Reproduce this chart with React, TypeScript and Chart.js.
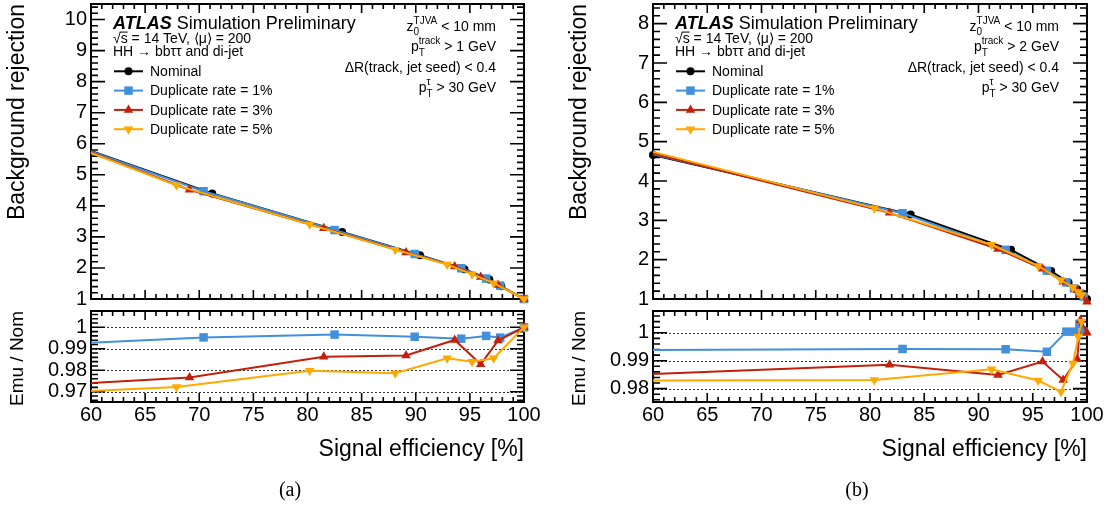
import React, { useEffect, useRef } from 'react';
import { Chart, registerables } from 'chart.js';

Chart.register(...registerables);

const FONT = "'Liberation Sans', Arial, Helvetica, sans-serif";
const SERIF = "'Liberation Serif', 'Times New Roman', serif";

// ---------------- data ----------------
const SERIES_NAMES = ['Nominal', 'Duplicate rate = 1%', 'Duplicate rate = 3%', 'Duplicate rate = 5%'];

const X_TICKS = [60, 65, 70, 75, 80, 85, 90, 95, 100];
const X_TICK_LABELS = ['60', '65', '70', '75', '80', '85', '90', '95', '100'];

const A_MAIN_Y_TICKS = [1, 2, 3, 4, 5, 6, 7, 8, 9, 10];
const A_MAIN_Y_LABELS = ['1', '2', '3', '4', '5', '6', '7', '8', '9', '10'];
const A_RATIO_Y_TICKS = [0.97, 0.98, 0.99, 1];
const A_RATIO_Y_LABELS = ['0.97', '0.98', '0.99', '1'];

const B_MAIN_Y_TICKS = [1, 2, 3, 4, 5, 6, 7, 8];
const B_MAIN_Y_LABELS = ['1', '2', '3', '4', '5', '6', '7', '8'];
const B_RATIO_Y_TICKS = [0.98, 0.99, 1];
const B_RATIO_Y_LABELS = ['0.98', '0.99', '1'];

// panel (a): pT(track) > 1 GeV
const A_NOM_X = [60, 71.2, 83.2, 90.4, 94.5, 96.8, 97.9, 100];
const A_NOM_Y = [5.77, 4.4, 3.16, 2.41, 1.96, 1.63, 1.41, 1.0];
const A_DUP1_X = [60, 70.4, 82.5, 89.9, 94.2, 96.5, 97.8, 100];
const A_DUP1_Y = [5.75, 4.47, 3.22, 2.45, 1.99, 1.66, 1.43, 1.0];
const A_DUP1_R = [0.9928, 0.9953, 0.9966, 0.9956, 0.9947, 0.996, 0.9952, 1.0];
const A_DUP3_X = [60, 69.1, 81.5, 89.1, 93.6, 96.0, 97.6, 100];
const A_DUP3_Y = [5.72, 4.52, 3.28, 2.5, 2.05, 1.71, 1.45, 1.0];
const A_DUP3_R = [0.974, 0.9766, 0.9863, 0.9869, 0.9941, 0.9828, 0.9938, 1.0];
const A_DUP5_X = [60, 67.9, 80.2, 88.1, 92.9, 95.2, 97.2, 100];
const A_DUP5_Y = [5.7, 4.66, 3.4, 2.59, 2.11, 1.8, 1.51, 1.0];
const A_DUP5_R = [0.9703, 0.9722, 0.9798, 0.9786, 0.9856, 0.984, 0.9856, 1.0];

// panel (b): pT(track) > 2 GeV
const B_NOM_X = [60, 83.75, 93.0, 96.7, 98.3, 99.1, 99.6, 100];
const B_NOM_Y = [4.66, 3.15, 2.25, 1.71, 1.42, 1.25, 1.12, 1.0];
const B_DUP1_X = [60, 83.0, 92.5, 96.3, 98.1, 98.8, 99.3, 99.7];
const B_DUP1_Y = [4.68, 3.18, 2.25, 1.72, 1.42, 1.27, 1.15, 1.06];
const B_DUP1_R = [0.9938, 0.9942, 0.9941, 0.9932, 1.0004, 1.0004, 1.0032, 1.0004];
const B_DUP3_X = [60, 81.8, 91.8, 95.9, 97.8, 99.1, 99.4, 100];
const B_DUP3_Y = [4.7, 3.19, 2.27, 1.77, 1.44, 1.22, 1.12, 0.93];
const B_DUP3_R = [0.9852, 0.9885, 0.9849, 0.9897, 0.9831, 0.9905, 1.0045, 1.0];
const B_DUP5_X = [60, 80.4, 91.2, 95.5, 97.6, 98.7, 99.2, 99.5];
const B_DUP5_Y = [4.74, 3.31, 2.38, 1.84, 1.48, 1.3, 1.18, 1.1];
const B_DUP5_R = [0.9829, 0.9831, 0.9869, 0.9829, 0.9789, 0.989, 0.9986, 1.004];

// ---------------- styles ----------------
const BLUE = '#4290dc';
const RED = '#c1200a';
const ORANGE = '#ffa800';
const STYLES = [
  { color: '#000000', shape: 'circle', r: 4, rot: 0 },
  { color: BLUE, shape: 'rect', r: 6, rot: 0 },
  { color: RED, shape: 'triangle', r: 5.5, rot: 0 },
  { color: ORANGE, shape: 'triangle', r: 5.5, rot: 180 },
];

type Run = { t: string; s?: number; dy?: number; ov?: boolean };
type Grp = Run[];

function grpW(ctx: CanvasRenderingContext2D, g: Grp) {
  let w = 0;
  for (const r of g) {
    ctx.font = `${r.s || 14}px ${FONT}`;
    w = Math.max(w, ctx.measureText(r.t).width);
  }
  return w;
}

function drawRich(ctx: CanvasRenderingContext2D, groups: Grp[], x: number, y: number, align: 'left' | 'right') {
  const total = groups.reduce((s, g) => s + grpW(ctx, g), 0);
  let cx = align === 'right' ? x - total : x;
  ctx.textAlign = 'left';
  ctx.textBaseline = 'alphabetic';
  for (const g of groups) {
    const w = grpW(ctx, g);
    for (const r of g) {
      const s = r.s || 14;
      ctx.font = `${s}px ${FONT}`;
      ctx.fillText(r.t, cx, y + (r.dy || 0));
      if (r.ov) {
        const tw = ctx.measureText(r.t).width;
        ctx.beginPath();
        ctx.lineWidth = 1;
        ctx.moveTo(cx - 1, y - s * 0.78);
        ctx.lineTo(cx + tw, y - s * 0.78);
        ctx.stroke();
      }
    }
    cx += w;
  }
}

function drawMarker(ctx: CanvasRenderingContext2D, st: any, x: number, y: number) {
  ctx.fillStyle = st.color;
  ctx.beginPath();
  if (st.shape === 'circle') {
    ctx.arc(x, y, st.r, 0, Math.PI * 2);
  } else if (st.shape === 'rect') {
    const h = st.r * Math.SQRT1_2;
    ctx.rect(x - h, y - h, 2 * h, 2 * h);
  } else {
    const sgn = st.rot === 180 ? -1 : 1;
    const r = st.r;
    ctx.moveTo(x, y - sgn * r);
    ctx.lineTo(x + r * 0.866, y + sgn * r * 0.5);
    ctx.lineTo(x - r * 0.866, y + sgn * r * 0.5);
    ctx.closePath();
  }
  ctx.fill();
}

function framePlugin(cfg: { xMajor: number[]; xDiv: number; yMajor: number[]; yDiv: number; xLen: number[]; yLen: number[]; dotted?: number[] }) {
  return {
    id: 'frame',
    beforeDatasetsDraw(chart: any) {
      const { ctx, chartArea: a } = chart;
      const xs = chart.scales.x;
      const ys = chart.scales.y;
      ctx.save();
      if (cfg.dotted) {
        ctx.setLineDash([2, 2]);
        ctx.strokeStyle = '#333';
        ctx.lineWidth = 1;
        ctx.beginPath();
        for (const v of cfg.dotted) {
          const y = Math.round(ys.getPixelForValue(v)) + 0.5;
          ctx.moveTo(a.left, y);
          ctx.lineTo(a.right, y);
        }
        ctx.stroke();
        ctx.setLineDash([]);
      }
      const each = (major: number[], div: number, min: number, max: number, fn: (v: number, isMaj: boolean) => void) => {
        const step = (major[1] - major[0]) / div;
        const start = major[0] - Math.floor((major[0] - min) / step + 1e-6) * step;
        for (let i = 0; i < 1000; i++) {
          const v = start + i * step;
          if (v > max + 1e-9) break;
          const k = Math.round((v - major[0]) / step);
          fn(v, ((k % div) + div) % div === 0);
        }
      };
      ctx.strokeStyle = '#000';
      ctx.lineWidth = 1.6;
      ctx.beginPath();
      each(cfg.xMajor, cfg.xDiv, xs.min, xs.max, (v, maj) => {
        const x = xs.getPixelForValue(v);
        const len = maj ? cfg.xLen[0] : cfg.xLen[1];
        ctx.moveTo(x, a.bottom);
        ctx.lineTo(x, a.bottom - len);
        ctx.moveTo(x, a.top);
        ctx.lineTo(x, a.top + len);
      });
      each(cfg.yMajor, cfg.yDiv, ys.min, ys.max, (v, maj) => {
        const y = ys.getPixelForValue(v);
        const len = maj ? cfg.yLen[0] : cfg.yLen[1];
        ctx.moveTo(a.left, y);
        ctx.lineTo(a.left + len, y);
        ctx.moveTo(a.right, y);
        ctx.lineTo(a.right - len, y);
      });
      ctx.stroke();
      ctx.lineWidth = 2;
      ctx.strokeRect(a.left, a.top, a.right - a.left, a.bottom - a.top);
      ctx.restore();
    },
  };
}

function textPlugin(fn: (ctx: CanvasRenderingContext2D, chart: any) => void) {
  return {
    id: 'txt',
    afterDraw(chart: any) {
      const ctx = chart.ctx;
      ctx.save();
      ctx.fillStyle = '#000';
      ctx.strokeStyle = '#000';
      fn(ctx, chart);
      ctx.restore();
    },
  };
}

type Panel = {
  plotLeft: number;
  plotRight: number;
  mainMax: number;
  mainTicks: number[];
  mainLabels: string[];
  ratioMin: number;
  ratioMax: number;
  ratioTicks: number[];
  ratioLabels: string[];
  ptCut: string;
  caption: string;
  captionX: number;
  nomFirstMarker: boolean;
  main: { x: number[]; y: number[] }[];
  ratio: { x: number[]; r: number[] }[];
};

const PANELS: Panel[] = [
  {
    plotLeft: 91, plotRight: 524, mainMax: 10.5, mainTicks: A_MAIN_Y_TICKS, mainLabels: A_MAIN_Y_LABELS,
    ratioMin: 0.9652, ratioMax: 1.0076, ratioTicks: A_RATIO_Y_TICKS, ratioLabels: A_RATIO_Y_LABELS,
    ptCut: '1', caption: '(a)', captionX: 290, nomFirstMarker: false,
    main: [
      { x: A_NOM_X, y: A_NOM_Y },
      { x: A_DUP1_X, y: A_DUP1_Y },
      { x: A_DUP3_X, y: A_DUP3_Y },
      { x: A_DUP5_X, y: A_DUP5_Y },
    ],
    ratio: [
      { x: A_DUP1_X, r: A_DUP1_R },
      { x: A_DUP3_X, r: A_DUP3_R },
      { x: A_DUP5_X, r: A_DUP5_R },
    ],
  },
  {
    plotLeft: 653, plotRight: 1087, mainMax: 8.5, mainTicks: B_MAIN_Y_TICKS, mainLabels: B_MAIN_Y_LABELS,
    ratioMin: 0.9752, ratioMax: 1.0078, ratioTicks: B_RATIO_Y_TICKS, ratioLabels: B_RATIO_Y_LABELS,
    ptCut: '2', caption: '(b)', captionX: 857, nomFirstMarker: true,
    main: [
      { x: B_NOM_X, y: B_NOM_Y },
      { x: B_DUP1_X, y: B_DUP1_Y },
      { x: B_DUP3_X, y: B_DUP3_Y },
      { x: B_DUP5_X, y: B_DUP5_Y },
    ],
    ratio: [
      { x: B_DUP1_X, r: B_DUP1_R },
      { x: B_DUP3_X, r: B_DUP3_R },
      { x: B_DUP5_X, r: B_DUP5_R },
    ],
  },
];

function yAxis(min: number, max: number, ticks: number[], labels: string[]) {
  return {
    type: 'linear',
    min,
    max,
    grid: { display: false, drawTicks: false },
    border: { display: false },
    ticks: {
      font: { family: FONT, size: 20 },
      color: '#000',
      padding: 4,
      callback: (_v: any, i: number) => labels[i],
    },
    afterBuildTicks: (s: any) => {
      s.ticks = ticks.map((v) => ({ value: v }));
    },
    afterFit: (s: any) => {
      s.width = 91;
      s.paddingTop = 0;
      s.paddingBottom = 0;
      s.paddingLeft = 0;
      s.paddingRight = 0;
    },
  };
}

function dataset(label: string, st: any, pts: { x: number; y: number }[], order: number, hideFirst: boolean) {
  return {
    label,
    data: pts,
    borderColor: st.color,
    backgroundColor: st.color,
    borderWidth: 2,
    tension: 0,
    pointStyle: st.shape,
    pointRotation: st.rot,
    pointRadius: (c: any) => (hideFirst && c.dataIndex === 0 ? 0 : st.r),
    pointBorderWidth: 0,
    pointBackgroundColor: st.color,
    order,
    clip: 8,
  };
}

function mainConfig(p: Panel) {
  const datasets = p.main.map((s, i) =>
    dataset(SERIES_NAMES[i], STYLES[i], s.x.map((x, j) => ({ x, y: s.y[j] })), 3 - i, !(i === 0 && p.nomFirstMarker))
  );
  return {
    type: 'line',
    data: { datasets },
    options: {
      animation: false,
      responsive: false,
      events: [],
      layout: { autoPadding: false, padding: { left: 0, top: 4, right: 14, bottom: 7 } },
      plugins: { legend: { display: false }, tooltip: { enabled: false } },
      scales: {
        x: { type: 'linear', min: 60, max: 100, display: false },
        y: yAxis(1, p.mainMax, p.mainTicks, p.mainLabels),
      },
    },
    plugins: [
      framePlugin({ xMajor: X_TICKS, xDiv: 5, yMajor: p.mainTicks, yDiv: 5, xLen: [9, 5], yLen: [14, 7] }),
      textPlugin((ctx, chart) => {
        const a = chart.chartArea;
        const ax = a.left + 22;
        ctx.textAlign = 'left';
        ctx.textBaseline = 'alphabetic';
        ctx.font = `italic bold 18px ${FONT}`;
        ctx.fillText('ATLAS', ax, 29);
        const w = ctx.measureText('ATLAS').width;
        ctx.font = `18px ${FONT}`;
        ctx.fillText('Simulation Preliminary', ax + w + 5, 29);
        drawRich(ctx, [[{ t: '√' }], [{ t: 's', ov: true }], [{ t: ' = 14 TeV, ⟨μ⟩ = 200' }]], ax, 43, 'left');
        ctx.font = `14px ${FONT}`;
        ctx.fillText('HH → bbττ and di-jet', ax, 56);
        // legend
        for (let i = 0; i < 4; i++) {
          const y = 71.3 + i * 19.3;
          const st = STYLES[i];
          ctx.strokeStyle = st.color;
          ctx.lineWidth = 2;
          ctx.beginPath();
          ctx.moveTo(a.left + 23, y);
          ctx.lineTo(a.left + 52, y);
          ctx.stroke();
          drawMarker(ctx, st, a.left + 37.5, y);
          ctx.fillStyle = '#000';
          ctx.font = `14px ${FONT}`;
          ctx.textAlign = 'left';
          ctx.textBaseline = 'middle';
          ctx.fillText(SERIES_NAMES[i], a.left + 59, y + 1);
        }
        ctx.fillStyle = '#000';
        ctx.strokeStyle = '#000';
        const rx = a.right - 28;
        drawRich(ctx, [[{ t: 'z' }], [{ t: 'TJVA', s: 10, dy: -7 }, { t: '0', s: 10, dy: 4 }], [{ t: ' < 10 mm' }]], rx, 31, 'right');
        drawRich(ctx, [[{ t: 'p' }], [{ t: 'track', s: 10, dy: -7 }, { t: 'T', s: 10, dy: 5 }], [{ t: ` > ${p.ptCut} GeV` }]], rx, 51, 'right');
        drawRich(ctx, [[{ t: 'ΔR(track, jet seed) < 0.4' }]], rx, 72, 'right');
        drawRich(ctx, [[{ t: 'p' }], [{ t: 'τ', s: 10, dy: -7 }, { t: 'T', s: 10, dy: 5 }], [{ t: ' > 30 GeV' }]], rx, 92, 'right');
        // y title
        ctx.save();
        ctx.translate(a.left - 73, a.top);
        ctx.rotate(-Math.PI / 2);
        ctx.textAlign = 'right';
        ctx.textBaseline = 'middle';
        ctx.font = `23px ${FONT}`;
        ctx.fillText('Background rejection', 0, 0);
        ctx.restore();
      }),
    ],
  };
}

function ratioConfig(p: Panel, canvasLeft: number) {
  const datasets = p.ratio.map((s, k) =>
    dataset(SERIES_NAMES[k + 1], STYLES[k + 1], s.x.map((x, j) => ({ x, y: s.r[j] })), 3 - k, true)
  );
  return {
    type: 'line',
    data: { datasets },
    options: {
      animation: false,
      responsive: false,
      events: [],
      layout: { autoPadding: false, padding: { left: 0, top: 11, right: 20, bottom: 0 } },
      plugins: { legend: { display: false }, tooltip: { enabled: false } },
      scales: {
        x: {
          type: 'linear',
          min: 60,
          max: 100,
          grid: { display: false, drawTicks: false },
          border: { display: false },
          ticks: {
            font: { family: FONT, size: 20 },
            color: '#000',
            padding: 1,
            maxRotation: 0,
            callback: (_v: any, i: number) => X_TICK_LABELS[i],
          },
          afterBuildTicks: (s: any) => {
            s.ticks = X_TICKS.map((v) => ({ value: v }));
          },
          afterFit: (s: any) => {
            s.height = 104;
            s.paddingTop = 0;
            s.paddingBottom = 0;
            s.paddingLeft = 0;
            s.paddingRight = 0;
          },
        },
        y: yAxis(p.ratioMin, p.ratioMax, p.ratioTicks, p.ratioLabels),
      },
    },
    plugins: [
      framePlugin({ xMajor: X_TICKS, xDiv: 5, yMajor: p.ratioTicks, yDiv: 5, xLen: [9, 5], yLen: [14, 7], dotted: p.ratioTicks }),
      textPlugin((ctx, chart) => {
        const a = chart.chartArea;
        ctx.save();
        ctx.translate(a.left - 73, a.top);
        ctx.rotate(-Math.PI / 2);
        ctx.textAlign = 'right';
        ctx.textBaseline = 'middle';
        ctx.font = `19px ${FONT}`;
        ctx.fillText('Emu / Nom', 0, 0);
        ctx.restore();
        ctx.textAlign = 'right';
        ctx.textBaseline = 'alphabetic';
        ctx.font = `23px ${FONT}`;
        ctx.fillText('Signal efficiency [%]', a.right, 156);
        ctx.textAlign = 'center';
        ctx.font = `20px ${SERIF}`;
        ctx.fillText(p.caption, p.captionX - canvasLeft, 196);
      }),
    ],
  };
}

function ChartBox(props: { left: number; top: number; width: number; height: number; make: () => any }) {
  const ref = useRef<HTMLCanvasElement | null>(null);
  useEffect(() => {
    if (!ref.current) return;
    const chart = new Chart(ref.current, props.make());
    return () => chart.destroy();
  }, []);
  return (
    <canvas
      ref={ref}
      width={props.width}
      height={props.height}
      style={{ position: 'absolute', left: props.left, top: props.top, width: props.width, height: props.height }}
    />
  );
}

export default function App() {
  return (
    <div style={{ position: 'absolute', left: 0, top: 0, width: 1107, height: 506, background: '#fff', overflow: 'hidden' }}>
      {PANELS.map((p, i) => {
        const cl = p.plotLeft - 91;
        return (
          <React.Fragment key={i}>
            <ChartBox left={cl} top={0} width={p.plotRight + 14 - cl} height={306} make={() => mainConfig(p)} />
            <ChartBox left={cl} top={300} width={Math.min(p.plotRight + 20, 1107) - cl} height={206} make={() => ratioConfig(p, cl)} />
          </React.Fragment>
        );
      })}
    </div>
  );
}
